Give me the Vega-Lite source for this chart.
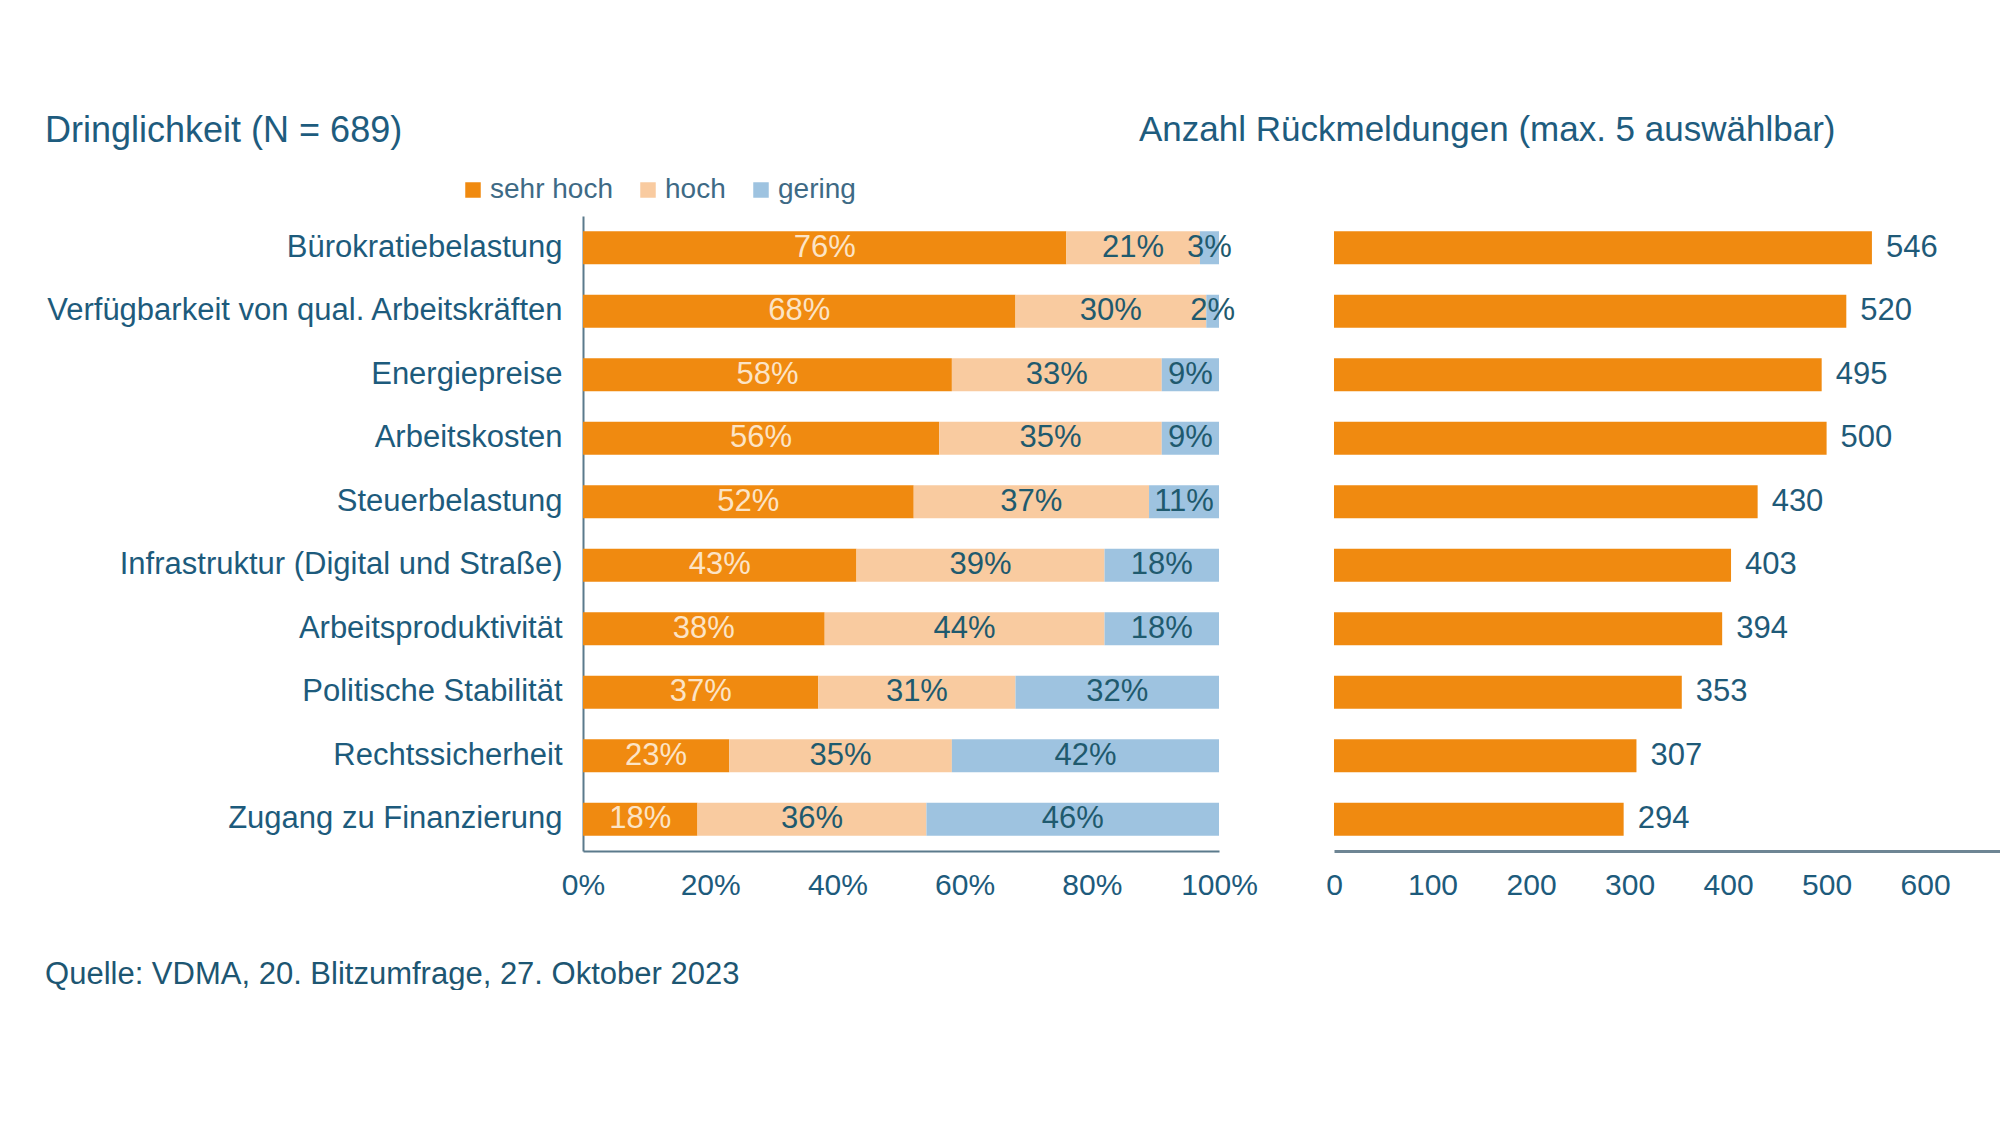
{
  "$schema": "https://vega.github.io/schema/vega-lite/v6.json",
  "background": "white",
  "padding": {"left": 45, "top": 113, "right": 0, "bottom": 0},
  "config": {
    "font": "Liberation Sans",
    "view": {"stroke": null},
    "axis": {"labelFont": "Liberation Sans", "grid": false, "ticks": false}
  },
  "title": {
    "text": "Quelle: VDMA, 20. Blitzumfrage, 27. Oktober 2023",
    "orient": "bottom",
    "anchor": "start",
    "frame": "bounds",
    "fontSize": 31,
    "fontWeight": "normal",
    "color": "#1D5672",
    "offset": 60
  },
  "datasets": {
    "dringlichkeit": [
      {"category": "Bürokratiebelastung", "level": "sehr hoch", "value": 0.76},
      {"category": "Bürokratiebelastung", "level": "hoch", "value": 0.21},
      {"category": "Bürokratiebelastung", "level": "gering", "value": 0.03},
      {"category": "Verfügbarkeit von qual. Arbeitskräften", "level": "sehr hoch", "value": 0.68},
      {"category": "Verfügbarkeit von qual. Arbeitskräften", "level": "hoch", "value": 0.30},
      {"category": "Verfügbarkeit von qual. Arbeitskräften", "level": "gering", "value": 0.02},
      {"category": "Energiepreise", "level": "sehr hoch", "value": 0.58},
      {"category": "Energiepreise", "level": "hoch", "value": 0.33},
      {"category": "Energiepreise", "level": "gering", "value": 0.09},
      {"category": "Arbeitskosten", "level": "sehr hoch", "value": 0.56},
      {"category": "Arbeitskosten", "level": "hoch", "value": 0.35},
      {"category": "Arbeitskosten", "level": "gering", "value": 0.09},
      {"category": "Steuerbelastung", "level": "sehr hoch", "value": 0.52},
      {"category": "Steuerbelastung", "level": "hoch", "value": 0.37},
      {"category": "Steuerbelastung", "level": "gering", "value": 0.11},
      {"category": "Infrastruktur (Digital und Straße)", "level": "sehr hoch", "value": 0.43},
      {"category": "Infrastruktur (Digital und Straße)", "level": "hoch", "value": 0.39},
      {"category": "Infrastruktur (Digital und Straße)", "level": "gering", "value": 0.18},
      {"category": "Arbeitsproduktivität", "level": "sehr hoch", "value": 0.38},
      {"category": "Arbeitsproduktivität", "level": "hoch", "value": 0.44},
      {"category": "Arbeitsproduktivität", "level": "gering", "value": 0.18},
      {"category": "Politische Stabilität", "level": "sehr hoch", "value": 0.37},
      {"category": "Politische Stabilität", "level": "hoch", "value": 0.31},
      {"category": "Politische Stabilität", "level": "gering", "value": 0.32},
      {"category": "Rechtssicherheit", "level": "sehr hoch", "value": 0.23},
      {"category": "Rechtssicherheit", "level": "hoch", "value": 0.35},
      {"category": "Rechtssicherheit", "level": "gering", "value": 0.42},
      {"category": "Zugang zu Finanzierung", "level": "sehr hoch", "value": 0.18},
      {"category": "Zugang zu Finanzierung", "level": "hoch", "value": 0.36},
      {"category": "Zugang zu Finanzierung", "level": "gering", "value": 0.46}
    ],
    "rueckmeldungen": [
      {"category": "Bürokratiebelastung", "count": 546},
      {"category": "Verfügbarkeit von qual. Arbeitskräften", "count": 520},
      {"category": "Energiepreise", "count": 495},
      {"category": "Arbeitskosten", "count": 500},
      {"category": "Steuerbelastung", "count": 430},
      {"category": "Infrastruktur (Digital und Straße)", "count": 403},
      {"category": "Arbeitsproduktivität", "count": 394},
      {"category": "Politische Stabilität", "count": 353},
      {"category": "Rechtssicherheit", "count": 307},
      {"category": "Zugang zu Finanzierung", "count": 294}
    ]
  },
  "bounds": "flush",
  "spacing": 115,
  "hconcat": [
    {
      "width": 636,
      "height": 635,
      "title": {
        "text": "Dringlichkeit (N = 689)",
        "anchor": "start",
        "frame": "bounds",
        "fontSize": 36,
        "fontWeight": "normal",
        "color": "#1E5C7E",
        "offset": 66
      },
      "data": {"name": "dringlichkeit"},
      "transform": [
        {
          "stack": "value",
          "groupby": ["category"],
          "sort": [{"field": "level", "order": "descending"}],
          "as": ["v0", "v1"]
        }
      ],
      "encoding": {
        "y": {
          "field": "category",
          "type": "nominal",
          "sort": [
            "Bürokratiebelastung",
            "Verfügbarkeit von qual. Arbeitskräften",
            "Energiepreise",
            "Arbeitskosten",
            "Steuerbelastung",
            "Infrastruktur (Digital und Straße)",
            "Arbeitsproduktivität",
            "Politische Stabilität",
            "Rechtssicherheit",
            "Zugang zu Finanzierung"
          ],
          "scale": {"paddingInner": 0.48, "paddingOuter": 0.24},
          "axis": {
            "title": null,
            "labelFontSize": 31,
            "labelColor": "#1D5B7C",
            "labelPadding": 21,
            "labelLimit": 0,
            "domain": true,
            "domainColor": "#5B7A8C",
            "domainWidth": 2
          }
        }
      },
      "layer": [
        {
          "mark": {"type": "bar"},
          "encoding": {
            "x": {
              "field": "v0",
              "type": "quantitative",
              "scale": {"domain": [0, 1], "nice": false},
              "axis": {
                "title": null,
                "values": [0, 0.2, 0.4, 0.6, 0.8, 1],
                "format": ".0%",
                "labelFontSize": 30,
                "labelColor": "#1D5B7C",
                "labelPadding": 19,
                "labelFlush": false,
                "domainColor": "#5B7A8C",
                "domainWidth": 2
              }
            },
            "x2": {"field": "v1"},
            "color": {
              "field": "level",
              "type": "nominal",
              "scale": {
                "domain": ["sehr hoch", "hoch", "gering"],
                "range": ["#F08A10", "#F9CBA0", "#9EC3E0"]
              },
              "legend": {
                "title": null,
                "orient": "none",
                "legendX": -124,
                "legendY": -40,
                "direction": "horizontal",
                "symbolType": "square",
                "symbolSize": 240,
                "symbolStrokeWidth": 0,
                "labelFontSize": 28,
                "labelColor": "#3E6A85",
                "labelOffset": 3,
                "columnPadding": 21
              }
            }
          }
        },
        {
          "transform": [
            {"fold": ["v0", "v1"], "as": ["edge", "pos"]},
            {
              "aggregate": [{"op": "mean", "field": "pos", "as": "mid"}],
              "groupby": ["category", "level", "value"]
            }
          ],
          "mark": {"type": "text", "fontSize": 31, "align": "center", "baseline": "middle"},
          "encoding": {
            "x": {"field": "mid", "type": "quantitative"},
            "text": {"field": "value", "type": "quantitative", "format": ".0%"},
            "color": {
              "condition": {"test": "datum.level === 'sehr hoch'", "value": "#FCE4C6"},
              "value": "#1F5A6E"
            }
          }
        }
      ]
    },
    {
      "width": 666,
      "height": 635,
      "title": {
        "text": "Anzahl Rückmeldungen (max. 5 auswählbar)",
        "anchor": "start",
        "frame": "group",
        "dx": -195,
        "fontSize": 35,
        "fontWeight": "normal",
        "color": "#1E5C7E",
        "offset": 68
      },
      "data": {"name": "rueckmeldungen"},
      "encoding": {
        "y": {
          "field": "category",
          "type": "nominal",
          "sort": [
            "Bürokratiebelastung",
            "Verfügbarkeit von qual. Arbeitskräften",
            "Energiepreise",
            "Arbeitskosten",
            "Steuerbelastung",
            "Infrastruktur (Digital und Straße)",
            "Arbeitsproduktivität",
            "Politische Stabilität",
            "Rechtssicherheit",
            "Zugang zu Finanzierung"
          ],
          "scale": {"paddingInner": 0.48, "paddingOuter": 0.24},
          "axis": null
        }
      },
      "layer": [
        {
          "mark": {"type": "bar", "color": "#F08A10"},
          "encoding": {
            "x": {
              "field": "count",
              "type": "quantitative",
              "scale": {"domain": [0, 676], "nice": false},
              "axis": {
                "title": null,
                "values": [0, 100, 200, 300, 400, 500, 600],
                "labelFontSize": 30,
                "labelColor": "#1D5B7C",
                "labelPadding": 19,
                "labelFlush": false,
                "domainColor": "#6E8594",
                "domainWidth": 3
              }
            }
          }
        },
        {
          "mark": {"type": "text", "align": "left", "baseline": "middle", "dx": 14, "fontSize": 31, "color": "#1F5A78"},
          "encoding": {
            "x": {"field": "count", "type": "quantitative"},
            "text": {"field": "count", "type": "quantitative"}
          }
        }
      ]
    }
  ]
}
